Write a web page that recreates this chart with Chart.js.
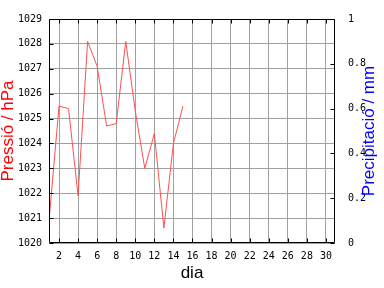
<!DOCTYPE html>
<html>
<head>
<meta charset="utf-8">
<script src="https://cdn.jsdelivr.net/npm/chart.js@4"></script>
<style>
  body { margin: 0; background: #fff; }
  canvas { display: block; }
</style>
</head>
<body>
<canvas id="chart" width="384" height="288"></canvas>
<script>
// data
const days = [1, 2, 3, 4, 5, 6, 7, 8, 9, 10, 11, 12, 13, 14, 15];
const pressure = [1021.1, 1025.5, 1025.4, 1021.9, 1028.1, 1027.1, 1024.7, 1024.8, 1028.1, 1025.3, 1023.0, 1024.4, 1020.6, 1024.0, 1025.5];
const dayTicks = [2, 4, 6, 8, 10, 12, 14, 16, 18, 20, 22, 24, 26, 28, 30];
const pressureTicks = [1020, 1021, 1022, 1023, 1024, 1025, 1026, 1027, 1028, 1029];
const precipTicks = [0, 0.2, 0.4, 0.6, 0.8, 1];

const monoFont = { family: "'DejaVu Sans Mono', monospace", size: 10 };
const gridColor = "#a0a0a0";

// frame, inward tick marks and axis titles
const framePlugin = {
    id: "frame",
    afterDatasetsDraw(chart) {
        const ctx = chart.ctx;
        const a = chart.chartArea;
        const x = chart.scales.x, y = chart.scales.y, y2 = chart.scales.y2;
        const l = Math.round(a.left) + 0.5, r = Math.round(a.right) - 0.5;
        const t = Math.round(a.top) + 0.5, b = Math.round(a.bottom) - 0.5;
        ctx.save();
        ctx.strokeStyle = "#000";
        ctx.lineWidth = 1;
        ctx.beginPath();
        ctx.rect(l, t, r - l, b - t);
        dayTicks.forEach(function (d) {
            const px = Math.round(x.getPixelForValue(d)) + 0.5;
            ctx.moveTo(px, b); ctx.lineTo(px, b - 4);
            ctx.moveTo(px, t); ctx.lineTo(px, t + 4);
        });
        pressureTicks.forEach(function (p) {
            const py = Math.round(y.getPixelForValue(p)) + 0.5;
            ctx.moveTo(l, py); ctx.lineTo(l + 4, py);
        });
        precipTicks.forEach(function (p) {
            const py = Math.round(y2.getPixelForValue(p)) + 0.5;
            ctx.moveTo(r, py); ctx.lineTo(r - 4, py);
        });
        ctx.stroke();
        ctx.restore();
    },
    afterDraw(chart) {
        const ctx = chart.ctx;
        const a = chart.chartArea;
        const midY = (a.top + a.bottom) / 2;
        ctx.save();
        ctx.font = "17px 'Liberation Sans', Arial, sans-serif";
        ctx.textAlign = "center";
        ctx.textBaseline = "middle";

        ctx.fillStyle = "#ff0000";
        ctx.save();
        ctx.translate(8, midY);
        ctx.rotate(-Math.PI / 2);
        ctx.fillText("Pressió / hPa", 0, 0);
        ctx.restore();

        ctx.fillStyle = "#0000ff";
        ctx.save();
        ctx.translate(369, midY);
        ctx.rotate(-Math.PI / 2);
        ctx.fillText("Precipitació / mm", 0, 0);
        ctx.restore();

        ctx.fillStyle = "#000";
        ctx.fillText("dia", (a.left + a.right) / 2, 273);
        ctx.restore();
    }
};

new Chart(document.getElementById("chart"), {
    type: "line",
    data: {
        datasets: [{
            label: "Pressió",
            data: days.map(function (d, i) { return { x: d, y: pressure[i] }; }),
            borderColor: "#ff5050",
            borderWidth: 1,
            pointRadius: 0,
            tension: 0,
            yAxisID: "y"
        }]
    },
    options: {
        responsive: false,
        animation: false,
        devicePixelRatio: 1,
        layout: { padding: { top: 14, left: 0, right: 0, bottom: 0 } },
        plugins: { legend: { display: false }, tooltip: { enabled: false } },
        scales: {
            x: {
                type: "linear",
                min: 0.95,
                max: 30.95,
                afterBuildTicks: function (scale) {
                    scale.ticks = dayTicks.map(function (v) { return { value: v }; });
                },
                afterFit: function (scale) { scale.height = 45; },
                grid: { color: gridColor, drawTicks: false },
                border: { display: false },
                ticks: {
                    font: monoFont, color: "#000", padding: 7, maxRotation: 0, autoSkip: false,
                    callback: function (v) { return String(v); }
                }
            },
            y: {
                position: "left",
                min: 1020,
                max: 1029,
                afterBuildTicks: function (scale) {
                    scale.ticks = pressureTicks.map(function (v) { return { value: v }; });
                },
                afterFit: function (scale) { scale.width = 49; },
                grid: { color: gridColor, drawTicks: false },
                border: { display: false },
                ticks: {
                    font: monoFont, color: "#000", padding: 7,
                    callback: function (v) { return String(v); }
                }
            },
            y2: {
                position: "right",
                min: 0,
                max: 1,
                afterBuildTicks: function (scale) {
                    scale.ticks = precipTicks.map(function (v) { return { value: v }; });
                },
                afterFit: function (scale) { scale.width = 49; },
                grid: { drawOnChartArea: false, drawTicks: false },
                border: { display: false },
                ticks: {
                    font: monoFont, color: "#000", padding: 13,
                    callback: function (v) { return String(Math.round(v * 10) / 10); }
                }
            }
        }
    },
    plugins: [framePlugin]
});
</script>
</body>
</html>
